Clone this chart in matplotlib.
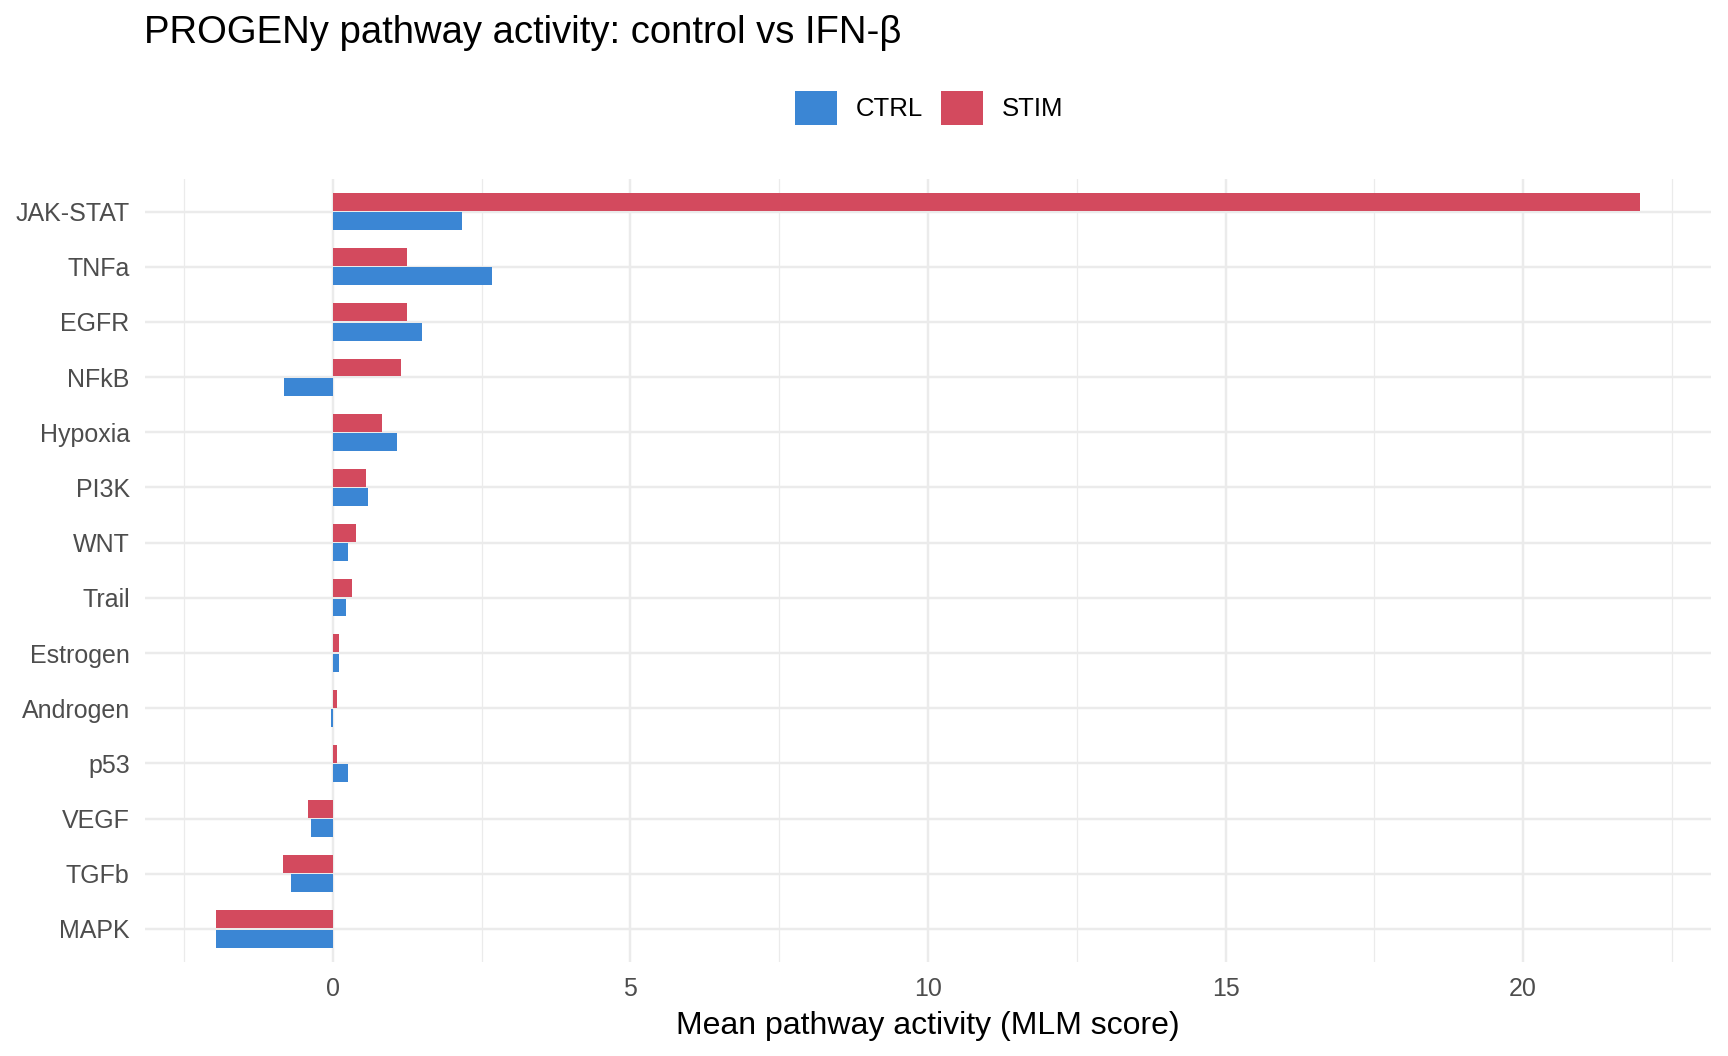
import matplotlib
matplotlib.use("Agg")
import matplotlib.pyplot as plt
from matplotlib.patches import Patch
from matplotlib.ticker import MultipleLocator
import numpy as np

plt.rcParams['font.family'] = ['Liberation Sans', 'DejaVu Sans']

pathways = ["JAK-STAT", "TNFa", "EGFR", "NFkB", "Hypoxia", "PI3K", "WNT",
            "Trail", "Estrogen", "Androgen", "p53", "VEGF", "TGFb", "MAPK"]
ctrl = [2.17, 2.68, 1.50, -0.82, 1.08, 0.59, 0.26,
        0.22, 0.10, -0.03, 0.26, -0.36, -0.70, -1.96]
stim = [21.96, 1.25, 1.25, 1.15, 0.83, 0.56, 0.39,
        0.32, 0.10, 0.075, 0.075, -0.41, -0.83, -1.96]
x_ticks = [0, 5, 10, 15, 20]

col_ctrl = "#3B86D4"
col_stim = "#D34A5E"

fig = plt.figure(figsize=(17.28, 10.56), dpi=100)
ax = fig.add_axes([145/1728, 1-962/1056, (1711-145)/1728, (962-178.5)/1056])

n = len(pathways)
ypos = np.arange(n)[::-1]
bh = 0.325
off = 0.175
ax.barh(ypos + off, stim, height=bh, color=col_stim, zorder=3)
ax.barh(ypos - off, ctrl, height=bh, color=col_ctrl, zorder=3)

lo = min(min(ctrl), min(stim))
hi = max(max(ctrl), max(stim))
rng = hi - lo
ax.set_xlim(lo - 0.05*rng, hi + 0.05*rng)
ax.set_ylim(-0.6, n - 1 + 0.6)

ax.set_yticks(ypos)
ax.set_yticklabels(pathways)
ax.set_xticks(x_ticks)
ax.set_xticklabels([str(t) for t in x_ticks])
ax.xaxis.set_minor_locator(MultipleLocator(2.5))

for s in ax.spines.values():
    s.set_visible(False)
ax.tick_params(axis='both', which='both', length=0)
ax.tick_params(axis='y', labelsize=18, labelcolor='#4D4D4D', pad=11)
ax.tick_params(axis='x', labelsize=18, labelcolor='#4D4D4D', pad=11)

ax.grid(which='major', axis='both', color='#EBEBEB', linewidth=1.75, zorder=0)
ax.grid(which='minor', axis='x', color='#EBEBEB', linewidth=0.9, zorder=0)
ax.set_axisbelow(True)

ax.set_xlabel("Mean pathway activity (MLM score)", fontsize=23, color='black', labelpad=7)

fig.text(144/1728, 1-43/1056, "PROGENy pathway activity: control vs IFN-β",
         fontsize=27.5, color='black', ha='left', va='baseline')

handles = [Patch(facecolor=col_ctrl, label="CTRL"), Patch(facecolor=col_stim, label="STIM")]
fig.legend(handles=handles, loc='center', bbox_to_anchor=(929/1728, 1-108/1056),
           ncol=2, frameon=False, fontsize=18.5, handlelength=1.635, handleheight=1.635,
           handletextpad=0.73, columnspacing=0.71, borderpad=0, borderaxespad=0)

fig.savefig("out.png", dpi=100, facecolor='white')
